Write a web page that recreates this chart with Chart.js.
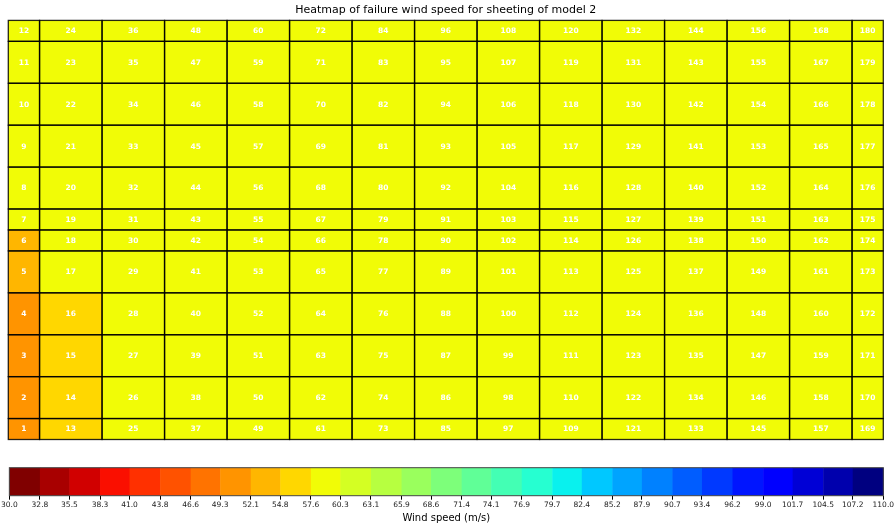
<!DOCTYPE html>
<html>
<head>
<meta charset="utf-8">
<script src="https://cdn.jsdelivr.net/npm/chart.js@4.4.1/dist/chart.umd.min.js"></script>
<style>
  html, body { margin: 0; padding: 0; background: #ffffff; }
  #wrap { position: relative; width: 896px; height: 527px; overflow: hidden; }
  #heat { position: absolute; left: 0; top: 0; }
  #cbar { position: absolute; left: 0; top: 455px; }
</style>
</head>
<body>
<div id="wrap">
  <canvas id="heat" width="896" height="527"></canvas>
  <canvas id="cbar" width="896" height="72"></canvas>
</div>
<script>
// Sheeting panel layout: column and row boundaries (edge strips are half width / height)
const colEdges = [0, 0.5, 1.5, 2.5, 3.5, 4.5, 5.5, 6.5, 7.5, 8.5, 9.5, 10.5, 11.5, 12.5, 13.5, 14];
const rowEdges = [0, 0.5, 1.5, 2.5, 3.5, 4.5, 5, 5.5, 6.5, 7.5, 8.5, 9.5, 10];

// Failure wind speed (m/s) per panel, one list per column, bottom row first
const col01 = [51.0, 50.6, 50.9, 51.5, 53.4, 54.0, 58.0, 58.3, 58.5, 58.7, 58.9, 59.1];
const col02 = [56.4, 55.8, 56.1, 56.9, 58.2, 58.6, 59.0, 59.3, 59.5, 59.7, 59.8, 60.0];
const col03 = [58.3, 58.1, 58.4, 58.9, 59.3, 59.6, 59.8, 59.9, 60.0, 60.1, 60.1, 60.2];
const col04 = [58.6, 58.5, 58.7, 59.1, 59.5, 59.7, 59.9, 60.0, 60.1, 60.1, 60.2, 60.2];
const col05 = [58.7, 58.6, 58.8, 59.2, 59.6, 59.8, 59.9, 60.0, 60.1, 60.2, 60.2, 60.2];
const col06 = [58.8, 58.7, 58.9, 59.3, 59.6, 59.8, 59.9, 60.0, 60.1, 60.1, 60.2, 60.2];
const col07 = [58.8, 58.7, 58.9, 59.3, 59.7, 59.8, 60.0, 60.0, 60.1, 60.1, 60.2, 60.2];
const col08 = [58.9, 58.8, 59.0, 59.4, 59.7, 59.9, 60.0, 60.1, 60.1, 60.2, 60.2, 60.2];
const col09 = [58.8, 58.7, 58.9, 59.3, 59.7, 59.8, 60.0, 60.0, 60.1, 60.1, 60.2, 60.2];
const col10 = [58.8, 58.7, 58.9, 59.3, 59.6, 59.8, 59.9, 60.0, 60.1, 60.1, 60.2, 60.2];
const col11 = [58.7, 58.6, 58.8, 59.2, 59.6, 59.8, 59.9, 60.0, 60.1, 60.1, 60.2, 60.2];
const col12 = [58.6, 58.5, 58.7, 59.1, 59.5, 59.7, 59.9, 60.0, 60.1, 60.1, 60.2, 60.2];
const col13 = [58.5, 58.4, 58.6, 59.0, 59.4, 59.6, 59.8, 59.9, 60.0, 60.1, 60.1, 60.2];
const col14 = [58.3, 58.2, 58.4, 58.8, 59.2, 59.5, 59.7, 59.8, 59.9, 60.0, 60.1, 60.1];
const col15 = [58.0, 57.9, 58.1, 58.5, 58.9, 59.2, 59.4, 59.6, 59.7, 59.8, 59.9, 60.0];
const columns = [col01, col02, col03, col04, col05, col06, col07, col08,
                 col09, col10, col11, col12, col13, col14, col15];

// Colour levels shown on the colour bar (m/s)
const levels = [30.0, 32.8, 35.5, 38.3, 41.0, 43.8, 46.6, 49.3, 52.1, 54.8,
                57.6, 60.3, 63.1, 65.9, 68.6, 71.4, 74.1, 76.9, 79.7, 82.4,
                85.2, 87.9, 90.7, 93.4, 96.2, 99.0, 101.7, 104.5, 107.2, 110.0];

const titleText = 'Heatmap of failure wind speed for sheeting of model 2';
const cbarLabel = 'Wind speed (m/s)';

// ---- reversed "jet" colour map, sampled once per level band ----
const JET = {
  r: [[0, 0], [0.35, 0], [0.66, 1], [0.89, 1], [1, 0.5]],
  g: [[0, 0], [0.125, 0], [0.375, 1], [0.64, 1], [0.91, 0], [1, 0]],
  b: [[0, 0.5], [0.11, 1], [0.34, 1], [0.65, 0], [1, 0]]
};
function seg(x, pts) {
  for (let i = 0; i < pts.length - 1; i++) {
    const [x0, y0] = pts[i], [x1, y1] = pts[i + 1];
    if (x <= x1) return y0 + (y1 - y0) * (x - x0) / (x1 - x0);
  }
  return pts[pts.length - 1][1];
}
function jet(x) {
  const c = k => Math.round(255 * Math.min(1, Math.max(0, seg(x, JET[k]))));
  return `rgb(${c('r')},${c('g')},${c('b')})`;
}
const nBands = levels.length - 1;
const bandColors = [];
for (let i = 0; i < nBands; i++) {
  const lutIdx = Math.floor(i * 255 / (nBands - 1));
  bandColors.push(jet(1 - lutIdx / 255));
}
function colorFor(v) {
  let i = 0;
  while (i < nBands - 1 && v >= levels[i + 1]) i++;
  return bandColors[i];
}

// ---- heat map cells ----
const cells = [];
columns.forEach((col, c) => {
  col.forEach((v, r) => {
    cells.push({
      x: (colEdges[c] + colEdges[c + 1]) / 2,
      y: (rowEdges[r] + rowEdges[r + 1]) / 2,
      c, r, v,
      id: c * col.length + r + 1
    });
  });
});

const cellPlugin = {
  id: 'panelCells',
  beforeDatasetsDraw(chart) {
    const { ctx } = chart;
    const xs = chart.scales.x, ys = chart.scales.y;
    const data = chart.data.datasets[0].data;
    ctx.save();
    data.forEach(d => {
      const x0 = xs.getPixelForValue(colEdges[d.c]);
      const x1 = xs.getPixelForValue(colEdges[d.c + 1]);
      const yTop = ys.getPixelForValue(rowEdges[d.r + 1]);
      const yBot = ys.getPixelForValue(rowEdges[d.r]);
      ctx.fillStyle = colorFor(d.v);
      ctx.fillRect(x0, yTop, x1 - x0, yBot - yTop);
    });
    ctx.strokeStyle = 'rgba(0,0,0,0.85)';
    ctx.lineWidth = 1.3;
    data.forEach(d => {
      const x0 = xs.getPixelForValue(colEdges[d.c]);
      const x1 = xs.getPixelForValue(colEdges[d.c + 1]);
      const yTop = ys.getPixelForValue(rowEdges[d.r + 1]);
      const yBot = ys.getPixelForValue(rowEdges[d.r]);
      ctx.strokeRect(x0, yTop, x1 - x0, yBot - yTop);
    });
    ctx.fillStyle = '#ffffff';
    ctx.font = 'bold 7.5px "DejaVu Sans"';
    ctx.textAlign = 'center';
    ctx.textBaseline = 'middle';
    data.forEach(d => {
      ctx.fillText(String(d.id), xs.getPixelForValue(d.x), ys.getPixelForValue(d.y) + 0.5);
    });
    ctx.restore();
  }
};

new Chart(document.getElementById('heat'), {
  type: 'scatter',
  data: { datasets: [{ data: cells, pointRadius: 0, pointHoverRadius: 0 }] },
  options: {
    responsive: false,
    animation: false,
    events: [],
    layout: { padding: { left: 8.3, right: 12.7, top: 0, bottom: 87.5 } },
    plugins: {
      legend: { display: false },
      tooltip: { enabled: false },
      title: {
        display: true,
        text: titleText,
        color: '#000000',
        font: { family: 'DejaVu Sans', size: 11, weight: 'normal' },
        padding: { top: 4, bottom: 3.2 }
      }
    },
    scales: {
      x: { type: 'linear', display: false, min: colEdges[0], max: colEdges[colEdges.length - 1] },
      y: { type: 'linear', display: false, min: rowEdges[0], max: rowEdges[rowEdges.length - 1] }
    }
  },
  plugins: [cellPlugin]
});

// ---- colour bar ----
const bands = [];
for (let i = 0; i < nBands; i++) bands.push({ x: (levels[i] + levels[i + 1]) / 2, y: 0.5, i });

const bandPlugin = {
  id: 'colourBands',
  beforeDatasetsDraw(chart) {
    const { ctx, chartArea } = chart;
    const xs = chart.scales.x;
    ctx.save();
    chart.data.datasets[0].data.forEach(b => {
      const x0 = xs.getPixelForValue(levels[b.i]);
      const x1 = xs.getPixelForValue(levels[b.i + 1]);
      ctx.fillStyle = bandColors[b.i];
      ctx.fillRect(x0, chartArea.top, x1 - x0 + 0.5, chartArea.bottom - chartArea.top);
    });
    ctx.strokeStyle = '#444444';
    ctx.lineWidth = 1;
    ctx.strokeRect(chartArea.left, chartArea.top, chartArea.right - chartArea.left, chartArea.bottom - chartArea.top);
    ctx.restore();
  }
};

new Chart(document.getElementById('cbar'), {
  type: 'scatter',
  data: { datasets: [{ data: bands, pointRadius: 0, pointHoverRadius: 0 }] },
  options: {
    responsive: false,
    animation: false,
    events: [],
    layout: { padding: { left: 8.3, right: 12.7, top: 12.7, bottom: 0 } },
    plugins: { legend: { display: false }, tooltip: { enabled: false } },
    scales: {
      x: {
        type: 'linear',
        min: levels[0],
        max: levels[levels.length - 1],
        afterBuildTicks(scale) { scale.ticks = levels.map(v => ({ value: v })); },
        afterFit(scale) { scale.height = 31.3; },
        border: { display: false },
        grid: { drawOnChartArea: false, drawTicks: true, tickLength: 4, color: '#000000', lineWidth: 1 },
        ticks: {
          autoSkip: false,
          maxRotation: 0,
          padding: 1,
          color: '#222222',
          font: { family: 'DejaVu Sans', size: 7.5 },
          callback: v => Number(v).toFixed(1)
        },
        title: {
          display: true,
          text: cbarLabel,
          color: '#000000',
          font: { family: 'DejaVu Sans', size: 10 },
          padding: { top: 0, bottom: 3 }
        }
      },
      y: { display: false, min: 0, max: 1 }
    }
  },
  plugins: [bandPlugin]
});
</script>
</body>
</html>
